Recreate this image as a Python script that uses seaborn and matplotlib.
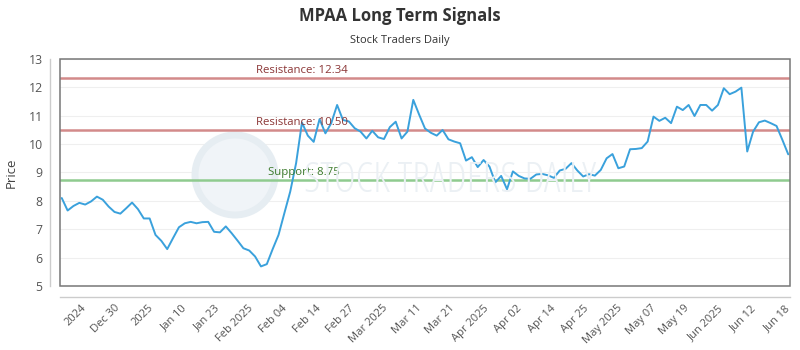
import numpy as np
import pandas as pd
import matplotlib
matplotlib.use("Agg")
import matplotlib.pyplot as plt
import seaborn as sns
from matplotlib.patches import Rectangle, Circle

title = "MPAA Long Term Signals"
subtitle = "Stock Traders Daily"

prices = [
    8.10, 7.66, 7.82, 7.93, 7.87, 7.98, 8.15, 8.04, 7.80, 7.61,
    7.55, 7.74, 7.94, 7.71, 7.38, 7.38, 6.80, 6.59, 6.30, 6.69,
    7.07, 7.21, 7.26, 7.21, 7.25, 7.26, 6.91, 6.89, 7.10, 6.86,
    6.60, 6.33, 6.25, 6.04, 5.69, 5.77, 6.30, 6.80, 7.57, 8.33,
    9.33, 10.76, 10.30, 10.08, 10.88, 10.38, 10.74, 11.38, 10.85, 10.80,
    10.56, 10.44, 10.20, 10.47, 10.24, 10.18, 10.60, 10.79, 10.20, 10.44,
    11.56, 11.04, 10.55, 10.40, 10.30, 10.50, 10.17, 10.09, 10.03, 9.42,
    9.54, 9.19, 9.44, 9.21, 8.65, 8.88, 8.41, 9.04, 8.88, 8.79,
    8.78, 8.93, 8.95, 8.90, 8.81, 9.07, 9.13, 9.33, 9.07, 8.86,
    8.94, 8.89, 9.09, 9.50, 9.65, 9.15, 9.21, 9.82, 9.83, 9.86,
    10.09, 10.97, 10.82, 10.93, 10.74, 11.32, 11.20, 11.38, 10.99, 11.38,
    11.38, 11.18, 11.38, 11.97, 11.76, 11.85, 11.99, 9.74, 10.44, 10.77,
    10.83, 10.74, 10.64, 10.15, 9.64,
]

tick_labels = ["2024", "Dec 30", "2025", "Jan 10", "Jan 23", "Feb 2025", "Feb 04",
               "Feb 14", "Feb 27", "Mar 2025", "Mar 11", "Mar 21", "Apr 2025",
               "Apr 02", "Apr 14", "Apr 25", "May 2025", "May 07", "May 19",
               "Jun 2025", "Jun 12", "Jun 18"]

levels = [12.34, 10.50, 8.75]
level_names = ["Resistance", "Resistance", "Support"]

df = pd.DataFrame({"idx": np.arange(len(prices)), "price": prices})

sns.set_theme(style="white")
plt.rcParams["font.family"] = ["Open Sans", "DejaVu Sans"]

fig = plt.figure(figsize=(8, 3.5), dpi=100)
ax = fig.add_axes([0.075, 0.1829, 0.9125, 0.6485])

# gridlines
for yv in range(5, 14):
    ax.axhline(yv, color="#efefef", lw=0.8, zorder=0)

# watermark
ax.add_patch(Circle((235, 175), 40, transform=None, facecolor="#f0f4f8",
                    edgecolor="#e6edf2", lw=5, zorder=0.5))
fig.text(0.5625, 0.485, "STOCK TRADERS DAILY", fontsize=30, color="#ebf0f4",
         ha="center", va="center", zorder=0.5, fontstretch="condensed")

sns.lineplot(data=df, x="idx", y="price", ax=ax, color="#3aa1dc", lw=1.4, zorder=3)

line_colors = ["#d38a8a", "#d38a8a", "#8fcb8f"]
text_colors = ["#8b3636", "#8b3636", "#3c7a2c"]
text_x = [33.2, 33.2, 35.2]
for lv, nm, lc, tc, tx in zip(levels, level_names, line_colors, text_colors, text_x):
    ax.axhline(lv, color=lc, lw=1.8, zorder=2)
    ax.text(tx, lv + 0.07, f"{nm}: {lv:.2f}", color=tc, fontsize=8.2,
            ha="left", va="bottom", zorder=4)

# spines first (set_position resets tick settings)
for s in ["top", "right"]:
    ax.spines[s].set_visible(False)
ax.spines["left"].set_position(("outward", 7.5))
ax.spines["bottom"].set_position(("outward", 8))
ax.spines["left"].set_color("#cccccc")
ax.spines["bottom"].set_color("#cccccc")
ax.spines["left"].set_linewidth(1)
ax.spines["bottom"].set_linewidth(1)
ax.add_patch(Rectangle((0, 0), 1, 1, transform=ax.transAxes, fill=False,
                       edgecolor="#777777", lw=1.1, zorder=5, clip_on=False))

ax.set_xlim(-0.3, 124.3)
ax.set_ylim(5, 13)
ax.set_yticks(range(5, 14))
ax.set_yticklabels([str(v) for v in range(5, 14)], color="#555555", fontsize=8.8)
ticks = np.linspace(3.2, 123.4, len(tick_labels))
ax.set_xticks(ticks)
ax.set_xticklabels(tick_labels, rotation=45, ha="right", rotation_mode="anchor",
                   color="#555555", fontsize=8)
ax.tick_params(axis="both", length=0)
ax.tick_params(axis="y", pad=5)
ax.tick_params(axis="x", pad=4)
ax.set_xlabel("")
ax.set_ylabel("Price", fontsize=9.5, color="#444444", labelpad=8)

fig.text(0.5, 0.955, title, ha="center", va="center", fontsize=12,
         fontweight="bold", color="#333333")
fig.text(0.5, 0.885, subtitle, ha="center", va="center", fontsize=8,
         color="#333333")

fig.savefig("out.png", dpi=100, facecolor="white")
